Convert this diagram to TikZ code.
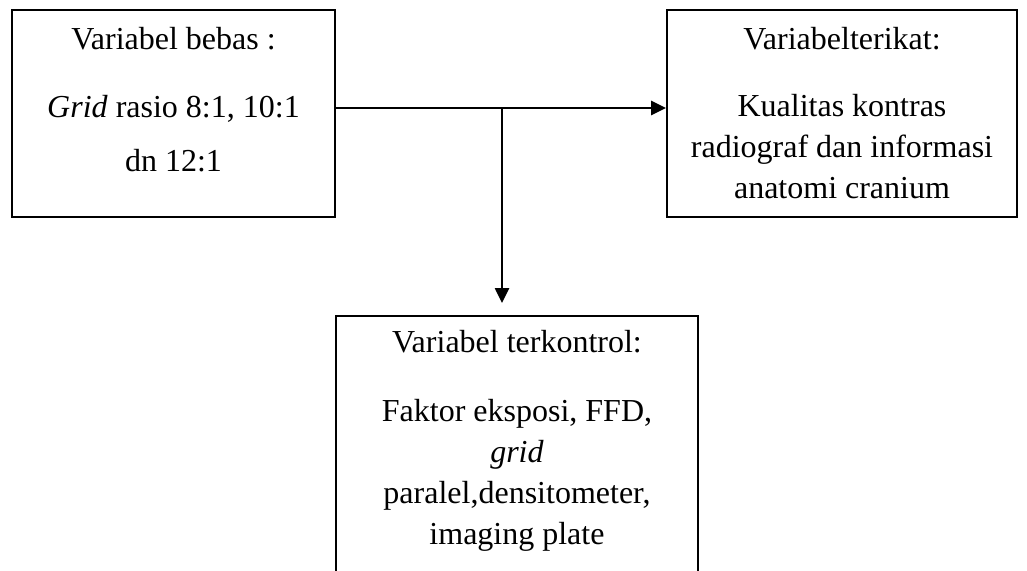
\documentclass[tikz,border=0pt]{standalone}
\usepackage{fontspec}
\setmainfont{Liberation Serif}
\usetikzlibrary{arrows.meta,positioning}

\begin{document}
\begin{tikzpicture}[x=1pt,y=1pt,line cap=butt,line join=miter]
\tikzset{
varbox/.style={draw=black, line width=2pt, rectangle, inner sep=0pt},
vartext/.style={inner sep=0pt, align=center, font=\fontsize{32}{41}\selectfont},
flow/.style={line width=2.6pt, -{Triangle[length=15pt,width=14pt]}}
}
\useasboundingbox (0,0) rectangle (1027,-570);
\clip (0,0) rectangle (1027,-570);

% kotak variabel
\node[varbox, minimum width=323, minimum height=207] (bebas) at (173.5,-113.5) {};
\node[varbox, minimum width=350, minimum height=207] (terikat) at (842,-113.5) {};
\node[varbox, minimum width=362, minimum height=284] (terkontrol) at (517,-458) {};

\node[vartext, font=\fontsize{32}{54}\selectfont, below=18 of bebas.north] (tbebas)
  {Variabel bebas :\\[14pt] \textit{Grid} rasio 8:1, 10:1\\ dn 12:1};
\node[vartext, below=18 of terikat.north] (tterikat)
  {Variabelterikat:\\[26pt] Kualitas kontras\\ radiograf dan informasi\\ anatomi cranium};
\node[vartext, below=15 of terkontrol.north] (tterkontrol)
  {Variabel terkontrol:\\[28pt] Faktor eksposi, FFD,\\ \textit{grid}\\ paralel,densitometer,\\ imaging plate};

% panah
\coordinate (split) at (502,-108);
\draw[flow] (bebas.east |- split) -- (terikat.west |- split);
\draw[flow, shorten >=12pt] (split) -- (split |- terkontrol.north);
\end{tikzpicture}
\end{document}
